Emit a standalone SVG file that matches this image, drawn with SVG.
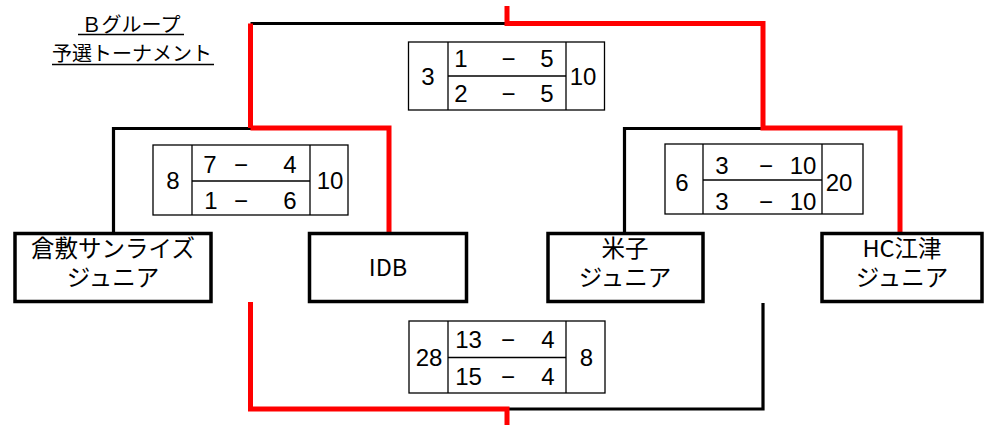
<svg xmlns="http://www.w3.org/2000/svg" width="989" height="425" viewBox="0 0 989 425">
<style>
.bg{fill:#fff}
.team{fill:#fff;stroke:#000;stroke-width:3.5}
.tt{font-family:"Noto Sans CJK JP","Liberation Sans",sans-serif;font-size:23.5px;text-anchor:middle;fill:#000}
.sb{fill:#fff;stroke:#000;stroke-width:1.3}
.sl{stroke:#000;stroke-width:1.3}
.n{font-family:"Liberation Sans","Noto Sans CJK JP",sans-serif;font-size:24px;text-anchor:middle;fill:#000}
.title{font-family:"Noto Sans CJK JP","Liberation Sans",sans-serif;font-size:20px;text-anchor:middle;fill:#000}
.blk{fill:none;stroke:#000;stroke-width:3.2}
.red{fill:none;stroke:#f00;stroke-width:5}
</style>
<rect class="bg" x="0" y="0" width="989" height="425"/>
<g id="title">
<text class="title" x="131" y="32">Ｂグループ</text>
<line x1="78" y1="34.5" x2="184" y2="34.5" stroke="#000" stroke-width="1.6"/>
<text class="title" x="132" y="61">予選トーナメント</text>
<line x1="52" y1="64.5" x2="214" y2="64.5" stroke="#000" stroke-width="1.6"/>
</g>
<g id="connectors">
<path class="blk" d="M250.5 23.5 H505"/>
<path class="blk" d="M113.5 233 V128.5 H251"/>
<path class="blk" d="M624.5 233 V128.5 H764"/>
<path class="blk" d="M763 303 V409 H505"/>
<path class="red" d="M507 6 V23.5 H763 V128 H900 V233"/>
<path class="red" d="M250.5 128 V23.5"/>
<path class="red" d="M250.5 128 H389 V233"/>
<path class="red" d="M250.5 302 V409 H507 V425"/>
</g>
<g id="team-kurashiki">
<rect class="team" x="15" y="233.5" width="196" height="68"/>
<text class="tt" x="113" y="257">倉敷サンライズ</text>
<text class="tt" x="113" y="286">ジュニア</text>
</g>
<g id="team-idb">
<rect class="team" x="309.5" y="233.5" width="157" height="68"/>
<text class="tt" x="388" y="276">IDB</text>
</g>
<g id="team-yonago">
<rect class="team" x="548" y="233.5" width="155" height="68"/>
<text class="tt" x="625" y="257">米子</text>
<text class="tt" x="625" y="286">ジュニア</text>
</g>
<g id="team-hcgotsu">
<rect class="team" x="822" y="233.5" width="160" height="68"/>
<text class="tt" x="902" y="257">HC江津</text>
<text class="tt" x="902" y="286">ジュニア</text>
</g>
<g id="score-final">
<rect class="sb" x="408.5" y="42" width="196" height="68"/>
<line class="sl" x1="448" y1="42" x2="448" y2="110"/>
<line class="sl" x1="566" y1="42" x2="566" y2="110"/>
<line class="sl" x1="448" y1="76" x2="566" y2="76"/>
<text class="n" x="428" y="85">3</text>
<text class="n" x="583" y="85">10</text>
<text class="n" x="461" y="67">1</text>
<text class="n" x="508.5" y="67">−</text>
<text class="n" x="547" y="67">5</text>
<text class="n" x="461" y="102">2</text>
<text class="n" x="508.5" y="102">−</text>
<text class="n" x="547" y="102">5</text>
</g>
<g id="score-left">
<rect class="sb" x="153" y="145" width="195" height="70"/>
<line class="sl" x1="192" y1="145" x2="192" y2="215"/>
<line class="sl" x1="310" y1="145" x2="310" y2="215"/>
<line class="sl" x1="192" y1="181" x2="310" y2="181"/>
<text class="n" x="173" y="189">8</text>
<text class="n" x="330" y="189">10</text>
<text class="n" x="210" y="173">7</text>
<text class="n" x="241" y="173">−</text>
<text class="n" x="290" y="173">4</text>
<text class="n" x="211" y="209">1</text>
<text class="n" x="241" y="209">−</text>
<text class="n" x="290" y="209">6</text>
</g>
<g id="score-right">
<rect class="sb" x="665" y="144" width="198" height="70"/>
<line class="sl" x1="703" y1="144" x2="703" y2="214"/>
<line class="sl" x1="822" y1="144" x2="822" y2="214"/>
<line class="sl" x1="703" y1="180" x2="822" y2="180"/>
<text class="n" x="682" y="191">6</text>
<text class="n" x="839" y="191">20</text>
<text class="n" x="722" y="174">3</text>
<text class="n" x="766" y="174">−</text>
<text class="n" x="803" y="174">10</text>
<text class="n" x="722" y="210">3</text>
<text class="n" x="766" y="210">−</text>
<text class="n" x="803" y="210">10</text>
</g>
<g id="score-bottom">
<rect class="sb" x="409" y="321" width="196" height="72"/>
<line class="sl" x1="448" y1="321" x2="448" y2="393"/>
<line class="sl" x1="566" y1="321" x2="566" y2="393"/>
<line class="sl" x1="448" y1="357.5" x2="566" y2="357.5"/>
<text class="n" x="429" y="366">28</text>
<text class="n" x="586.5" y="366">8</text>
<text class="n" x="468.5" y="348">13</text>
<text class="n" x="508" y="348">−</text>
<text class="n" x="548" y="348">4</text>
<text class="n" x="468.5" y="385">15</text>
<text class="n" x="508" y="385">−</text>
<text class="n" x="548" y="385">4</text>
</g>
</svg>
